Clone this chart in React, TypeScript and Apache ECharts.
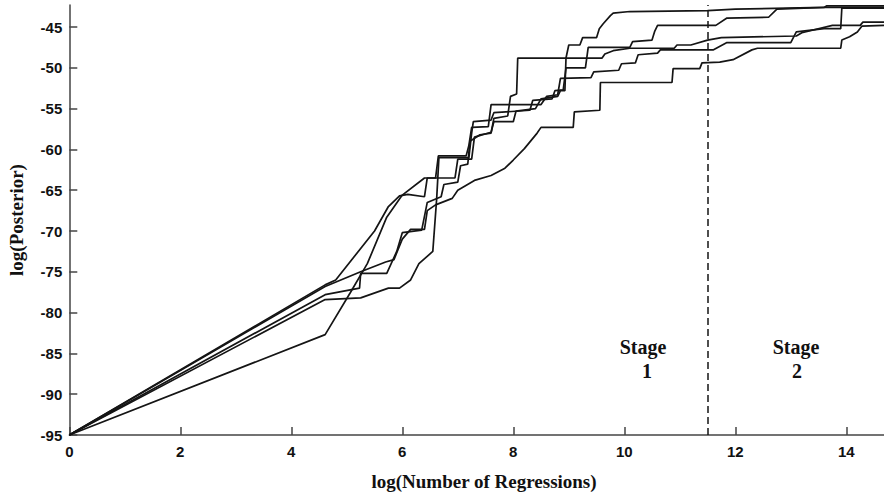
import React, { useEffect, useRef } from "react";
import * as echarts from "echarts";

const xTicks = [0, 2, 4, 6, 8, 10, 12, 14];
const yTicks = [-95, -90, -85, -80, -75, -70, -65, -60, -55, -50, -45];
const stageBoundary = 11.5;

const run1: [number, number][] = [
  [0, -95], [4.61, -76.6], [4.8, -76], [5.5, -70], [5.75, -67], [5.95, -65.7], [6.1, -65.5], [6.4, -65.8],
  [6.45, -63.5], [6.95, -63.5], [7.0, -61.2], [7.25, -61.2], [7.3, -58.5], [7.6, -57.9], [7.65, -56.6],
  [8.0, -56.6], [8.05, -55.3], [8.4, -55], [8.5, -53.8], [8.8, -53.5], [8.85, -52.8], [8.93, -52.8],
  [8.95, -48.8], [9.0, -47.2], [9.2, -47.2], [9.25, -46.3], [9.5, -46.3], [9.55, -45.2], [9.62, -44.6],
  [9.75, -43.6], [9.8, -43.3], [10.1, -43.1], [11.5, -43], [12, -42.8], [13.6, -42.6], [13.65, -42.4], [14.68, -42.4],
];
const run2: [number, number][] = [
  [0, -95], [4.61, -77.8], [5.23, -77], [5.25, -75.2], [5.72, -75.2], [5.9, -72.5], [6.0, -70.2], [6.35, -69.9],
  [6.45, -66.5], [6.7, -65.8], [6.75, -64.3], [7.0, -64], [7.05, -62], [7.18, -61.8], [7.22, -59], [7.4, -58.2],
  [7.6, -58], [7.65, -56.2], [7.9, -55.9], [7.95, -53.5], [8.06, -53.2], [8.08, -48.8], [9.6, -48.8],
  [9.65, -48.3], [9.8, -47.9], [10.1, -47.6], [10.9, -47.6], [10.95, -47.2], [11.2, -47.2], [11.5, -46.6],
  [11.75, -46.3], [13.1, -46.1], [13.2, -45.7], [13.75, -44.8], [14.25, -44.8], [14.3, -44.4], [14.68, -44.4],
];
const run3: [number, number][] = [
  [0, -95], [4.61, -78.4], [5.25, -78.2], [5.75, -77.0], [5.95, -77.0], [6.15, -76], [6.3, -74], [6.55, -72.5],
  [6.62, -66], [6.66, -61], [7.2, -61], [7.25, -58], [7.28, -56.6], [7.6, -56.4], [7.65, -55.5], [8.3, -55.2],
  [8.35, -54], [8.7, -53.8], [8.75, -52.8], [8.9, -52.7], [8.95, -50], [9.3, -50], [9.35, -47.5], [10.1, -47.5],
  [10.15, -46.8], [10.5, -46.6], [10.55, -45.5], [10.6, -44.8], [11.65, -44.8], [11.85, -43.9], [12.6, -43.8],
  [12.75, -42.8], [13.6, -42.6], [14.68, -42.6],
];
const run4: [number, number][] = [
  [0, -95], [4.61, -82.7], [5.06, -77.6], [5.37, -74], [5.72, -68.3], [6.0, -65.6], [6.4, -63.5], [6.6, -63.5],
  [6.65, -60.8], [7.15, -60.8], [7.2, -59.5], [7.25, -57.3], [7.55, -57.2], [7.6, -54.5], [8.5, -54.5],
  [8.55, -54], [8.6, -53.5], [8.8, -53.3], [8.85, -51.3], [9.4, -51.2], [9.45, -50.5], [9.9, -50.3],
  [9.95, -49.5], [10.2, -49.4], [10.25, -48.4], [10.6, -48.2], [10.65, -47.8], [11.6, -47.8], [11.85, -46.9],
  [13.0, -46.9], [13.1, -45.6], [13.6, -45.2], [13.9, -45.2], [13.92, -42.7], [14.68, -42.7],
];
const run5: [number, number][] = [
  [0, -95], [4.61, -76.8], [5.25, -75], [5.7, -73.8], [5.85, -73.5], [6.0, -71], [6.15, -69.8], [6.4, -69.8],
  [6.45, -67.5], [6.6, -66.8], [6.9, -66], [7.0, -65], [7.3, -63.8], [7.6, -63.2], [7.85, -62.3], [8.0, -61.3],
  [8.2, -59.9], [8.43, -58], [8.5, -57.3], [9.08, -57.3], [9.1, -55.4], [9.56, -55.2], [9.57, -51.8],
  [10.86, -51.8], [10.88, -50.1], [11.36, -50.1], [11.4, -49.4], [11.72, -49.3], [11.96, -49], [12.3, -47.8],
  [12.4, -47.6], [13.9, -47.6], [13.92, -46.6], [14.06, -46.2], [14.2, -45.6], [14.28, -44.9], [14.68, -44.8],
];
const runs = [run1, run2, run3, run4, run5];

const LINE = "#151515";
const AXIS = "#444";
const SERIF = "'Liberation Serif', 'Times New Roman', serif";
const SANS = "'Liberation Sans', Arial, sans-serif";

export default function App() {
  const ref = useRef<HTMLDivElement>(null);
  useEffect(() => {
    if (!ref.current) return;
    const chart = echarts.init(ref.current, undefined, { renderer: "svg" });
    const series: any[] = runs.map((r, i) => ({
      type: "line",
      data: r,
      showSymbol: false,
      symbol: "none",
      lineStyle: { color: LINE, width: 1.7 },
      z: 3,
      markLine:
        i === 0
          ? {
              silent: true,
              symbol: "none",
              label: { show: false },
              lineStyle: { color: LINE, width: 1.5, type: [7, 4] },
              data: [{ xAxis: stageBoundary }],
            }
          : undefined,
    }));
    chart.setOption({
      animation: false,
      backgroundColor: "#fff",
      grid: { left: 69.3, right: 0, top: 5, bottom: 59, containLabel: false },
      xAxis: {
        type: "value",
        min: 0,
        max: 14.68,
        splitLine: { show: false },
        axisLine: { lineStyle: { color: AXIS, width: 1.5 } },
        axisTick: { inside: true, length: 8, customValues: xTicks, lineStyle: { color: AXIS, width: 1.5 } },
        axisLabel: {
          customValues: xTicks,
          margin: 9,
          color: "#111",
          fontFamily: SANS,
          fontWeight: "bold",
          fontSize: 15,
        },
      },
      yAxis: {
        type: "value",
        min: -95,
        max: -42.3,
        splitLine: { show: false },
        axisLine: { lineStyle: { color: AXIS, width: 1.5 } },
        axisTick: { inside: true, length: 8, customValues: yTicks, lineStyle: { color: AXIS, width: 1.5 } },
        axisLabel: {
          customValues: yTicks,
          margin: 7,
          color: "#111",
          fontFamily: SANS,
          fontWeight: "bold",
          fontSize: 15,
        },
      },
      series,
      graphic: [
        {
          type: "text",
          x: 484,
          y: 481,
          style: {
            text: "log(Number of Regressions)",
            fontFamily: SERIF,
            fontWeight: "bold",
            fontSize: 19,
            fill: "#111",
            textAlign: "center",
            textVerticalAlign: "middle",
          },
        },
        {
          type: "text",
          x: 16,
          y: 220,
          rotation: Math.PI / 2,
          style: {
            text: "log(Posterior)",
            fontFamily: SERIF,
            fontWeight: "bold",
            fontSize: 19,
            fill: "#111",
            textAlign: "center",
            textVerticalAlign: "middle",
          },
        },
        { type: "text", x: 643, y: 347, style: { text: "Stage", fontFamily: SERIF, fontWeight: "bold", fontSize: 20, fill: "#111", textAlign: "center", textVerticalAlign: "middle" } },
        { type: "text", x: 647, y: 371, style: { text: "1", fontFamily: SERIF, fontWeight: "bold", fontSize: 20, fill: "#111", textAlign: "center", textVerticalAlign: "middle" } },
        { type: "text", x: 796, y: 347, style: { text: "Stage", fontFamily: SERIF, fontWeight: "bold", fontSize: 20, fill: "#111", textAlign: "center", textVerticalAlign: "middle" } },
        { type: "text", x: 797, y: 371, style: { text: "2", fontFamily: SERIF, fontWeight: "bold", fontSize: 20, fill: "#111", textAlign: "center", textVerticalAlign: "middle" } },
      ],
    });
    return () => chart.dispose();
  }, []);
  return <div ref={ref} style={{ width: 884, height: 494, position: "absolute", left: 0, top: 0 }} />;
}
